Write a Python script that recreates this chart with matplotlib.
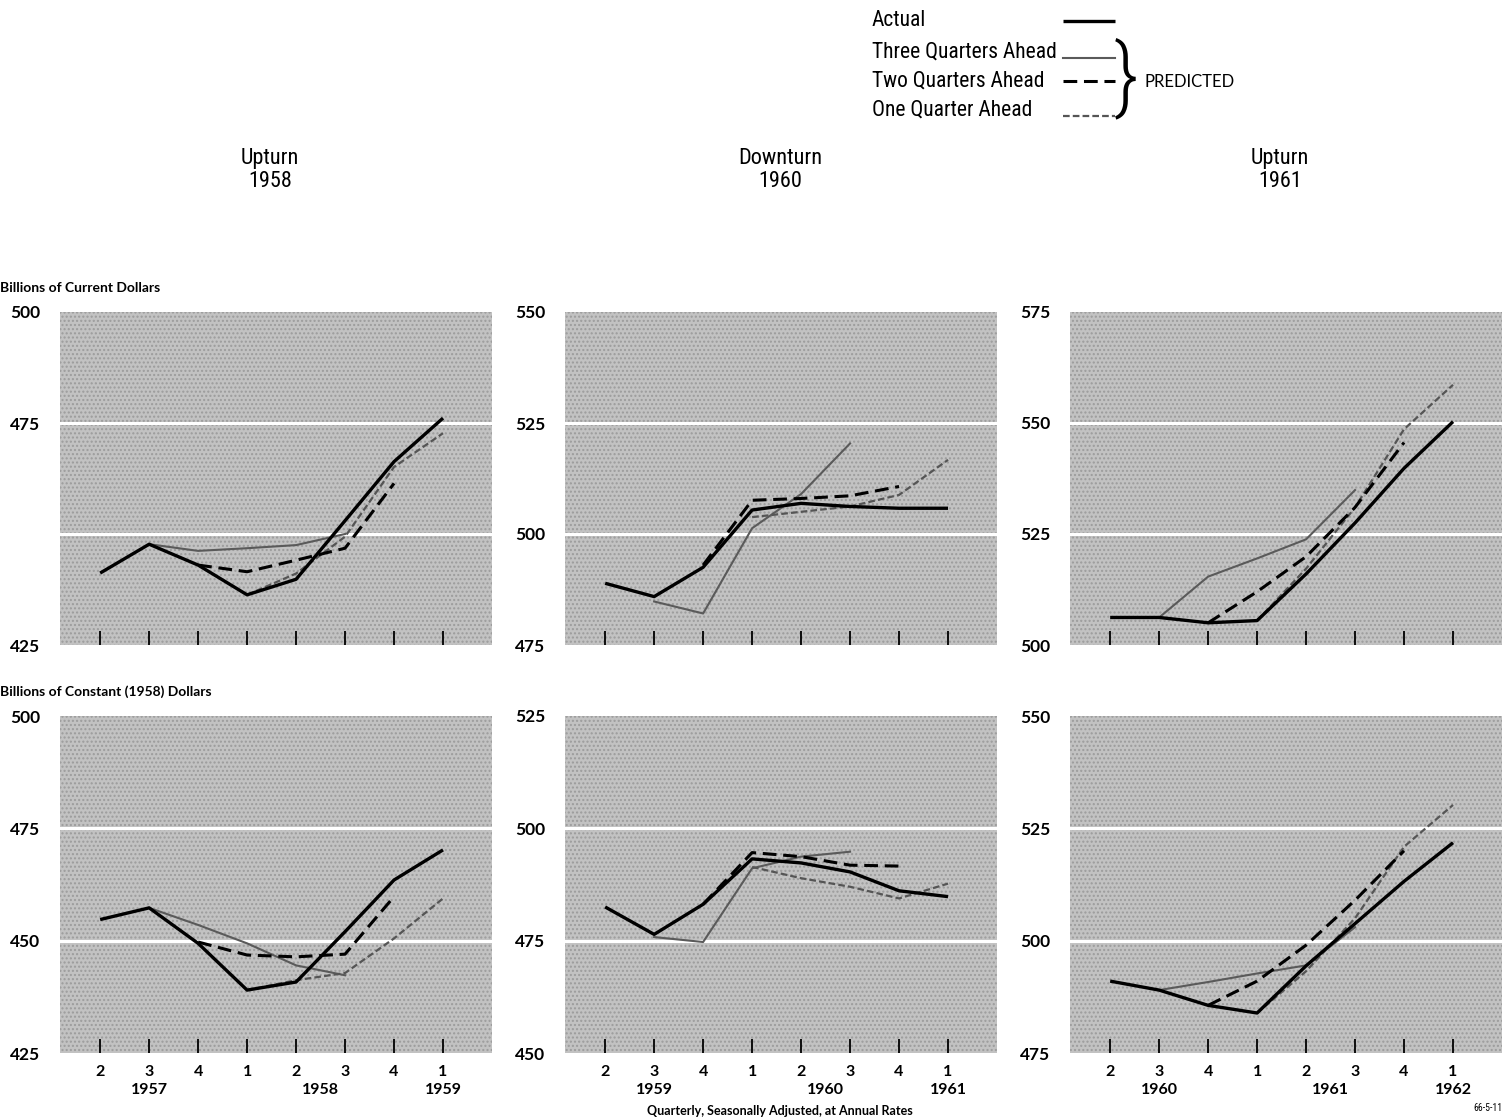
import matplotlib
matplotlib.use('Agg')
import matplotlib.pyplot as plt
from matplotlib.lines import Line2D
from matplotlib.patches import Rectangle

# quarter positions shared by every panel
quarter_labels = ['2', '3', '4', '1', '2', '3', '4', '1']
quarters = list(range(8))

# --- Billions of current dollars ---
up58_cur_actual = [441.2, 447.7, 443.0, 436.3, 439.8, 453.0, 466.3, 476.1]
up58_cur_three = [447.7, 446.2, 446.8, 447.5, 450.0]
up58_cur_two = [443.0, 441.5, 444.1, 446.8, 461.4]
up58_cur_one = [436.3, 441.1, 449.4, 465.1, 472.7]

down60_cur_actual = [488.9, 485.9, 492.5, 505.4, 506.9, 506.2, 505.8, 505.8]
down60_cur_three = [484.8, 482.1, 501.3, 509.0, 520.4]
down60_cur_two = [493.0, 507.6, 508.0, 508.6, 510.7]
down60_cur_one = [503.8, 505.0, 506.2, 508.8, 516.7]

up61_cur_actual = [506.2, 506.2, 505.0, 505.5, 516.0, 527.5, 539.8, 550.3]
up61_cur_three = [506.2, 515.4, 519.5, 523.8, 534.9]
up61_cur_two = [505.0, 512.0, 519.9, 531.0, 545.6]
up61_cur_one = [505.5, 517.2, 531.0, 548.6, 558.6]

# --- Billions of constant (1958) dollars ---
up58_con_actual = [454.7, 457.3, 449.4, 439.0, 440.8, 452.0, 463.5, 470.2]
up58_con_three = [457.3, 453.5, 449.4, 444.5, 442.3]
up58_con_two = [449.7, 446.8, 446.4, 447.0, 459.8]
up58_con_one = [439.0, 441.2, 442.8, 450.5, 459.4]

down60_con_actual = [482.5, 476.4, 483.1, 493.2, 492.3, 490.3, 486.1, 484.8]
down60_con_three = [475.8, 474.7, 491.1, 493.7, 494.8]
down60_con_two = [483.1, 494.6, 493.7, 491.8, 491.6]
down60_con_one = [491.4, 488.9, 487.0, 484.4, 487.7]

up61_con_actual = [491.0, 489.0, 485.6, 483.9, 494.4, 503.8, 513.2, 521.8]
up61_con_three = [489.0, 490.8, 492.7, 494.5, 503.0]
up61_con_two = [485.6, 491.0, 499.0, 509.0, 520.0]
up61_con_one = [483.9, 493.2, 505.0, 520.9, 530.2]

titles = ['Upturn\n1958', 'Downturn\n1960', 'Upturn\n1961']
year_labels = [['1957', '1958', '1959'],
               ['1959', '1960', '1961'],
               ['1960', '1961', '1962']]
year_pos = [1, 4.5, 7]

ylims = [[(425, 500), (475, 550), (500, 575)],
         [(425, 500), (450, 525), (475, 550)]]
ytick_vals = [[[425, 475, 500], [475, 500, 525, 550], [500, 525, 550, 575]],
              [[425, 450, 475, 500], [450, 475, 500, 525], [475, 500, 525, 550]]]

data = [[(up58_cur_actual, up58_cur_three, up58_cur_two, up58_cur_one),
         (down60_cur_actual, down60_cur_three, down60_cur_two, down60_cur_one),
         (up61_cur_actual, up61_cur_three, up61_cur_two, up61_cur_one)],
        [(up58_con_actual, up58_con_three, up58_con_two, up58_con_one),
         (down60_con_actual, down60_con_three, down60_con_two, down60_con_one),
         (up61_con_actual, up61_con_three, up61_con_two, up61_con_one)]]

W, H = 1505, 1120
fig = plt.figure(figsize=(W / 100, H / 100), dpi=100)
fig.patch.set_facecolor('white')

narrow = ['Roboto Condensed', 'Roboto', 'DejaVu Sans']
geo = ['Lato', 'DejaVu Sans']

# line styles
st_actual = dict(color='black', lw=2.4, solid_capstyle='butt')
st_three = dict(color='#5a5a5a', lw=1.5)
st_two = dict(color='black', lw=2.2, dashes=(4.5, 2.2))
st_one = dict(color='#555555', lw=1.6, dashes=(3.0, 1.4))


def fx(px):
    return px / W


def fy(py):
    return 1 - py / H


col_left = [60, 565, 1070]
row_top = [312, 716]
row_bot = [645, 1053]
panel_w = 432

for r in range(2):
    for c in range(3):
        ax = fig.add_axes([fx(col_left[c]), fy(row_bot[r]), fx(panel_w),
                           (row_bot[r] - row_top[r]) / H])
        ax.set_facecolor('#c2c2c2')
        ax.add_patch(Rectangle((0, 0), 1, 1, transform=ax.transAxes,
                               facecolor='none', edgecolor='#9c9c9c',
                               hatch='....', lw=0, zorder=0))
        lo, hi = ylims[r][c]
        ax.set_ylim(lo, hi)
        ax.set_xlim(-0.82, 8.0)
        for g in (lo + 25, lo + 50):
            ax.axhline(g, color='white', lw=2.2, zorder=1)

        actual, three, two, one = data[r][c]
        ax.plot(quarters[1:6], three, zorder=3, **st_three)
        ax.plot(quarters[3:8], one, zorder=3, **st_one)
        ax.plot(quarters[2:7], two, zorder=4, **st_two)
        ax.plot(quarters, actual, zorder=5, **st_actual)

        for s in ax.spines.values():
            s.set_visible(False)
        ax.set_yticks(ytick_vals[r][c])
        ax.set_yticklabels([str(v) for v in ytick_vals[r][c]],
                           family=geo, fontsize=12.5, weight='bold')
        ax.tick_params(axis='y', length=0, pad=14)
        ax.set_xticks(quarters)
        ax.tick_params(axis='x', direction='in', length=10, width=1.3,
                       color='black', pad=9)
        if r == 1:
            ax.set_xticklabels(quarter_labels, family=geo, fontsize=11.5,
                               weight='bold')
            for lab, xp in zip(year_labels[c], year_pos):
                ax.text(xp, -0.11, lab, transform=ax.get_xaxis_transform(),
                        ha='center', va='center', fontsize=11.5,
                        family=geo, weight='bold')
        else:
            ax.set_xticklabels([])

# column titles
for c, t in enumerate(titles):
    fig.text(fx([270, 780, 1280][c]), fy(170), t, ha='center', va='center',
             fontsize=16, family=narrow, linespacing=1.1)

fig.text(fx(0), fy(288), 'Billions of Current Dollars', ha='left',
         va='center', fontsize=10, weight='bold', family=geo)
fig.text(fx(0), fy(692), 'Billions of Constant (1958) Dollars', ha='left',
         va='center', fontsize=10, weight='bold', family=geo)
fig.text(fx(780), fy(1111), 'Quarterly, Seasonally Adjusted, at Annual Rates',
         ha='center', va='center', fontsize=9, weight='bold', family=geo)
fig.text(fx(1503), fy(1108), '66-5-11', ha='right', va='center',
         fontsize=7, family=narrow)

# legend drawn in figure space
leg_items = [('Actual', 21, st_actual, 21),
             ('Three Quarters Ahead', 52, st_three, 58),
             ('Two Quarters Ahead', 81, st_two, 81),
             ('One Quarter Ahead', 110, st_one, 116)]
for text, ty, style, ly in leg_items:
    fig.text(fx(872), fy(ty), text, ha='left', va='center', fontsize=15.5,
             family=narrow)
    fig.add_artist(Line2D([fx(1063), fx(1115)], [fy(ly), fy(ly)], **style))

fig.text(fx(1114), fy(80), '}', ha='left', va='center', fontsize=60,
         family=narrow, weight='light')
fig.text(fx(1145), fy(82), 'PREDICTED', ha='left', va='center',
         fontsize=12, family=geo)

fig.savefig('out.png', dpi=100)
